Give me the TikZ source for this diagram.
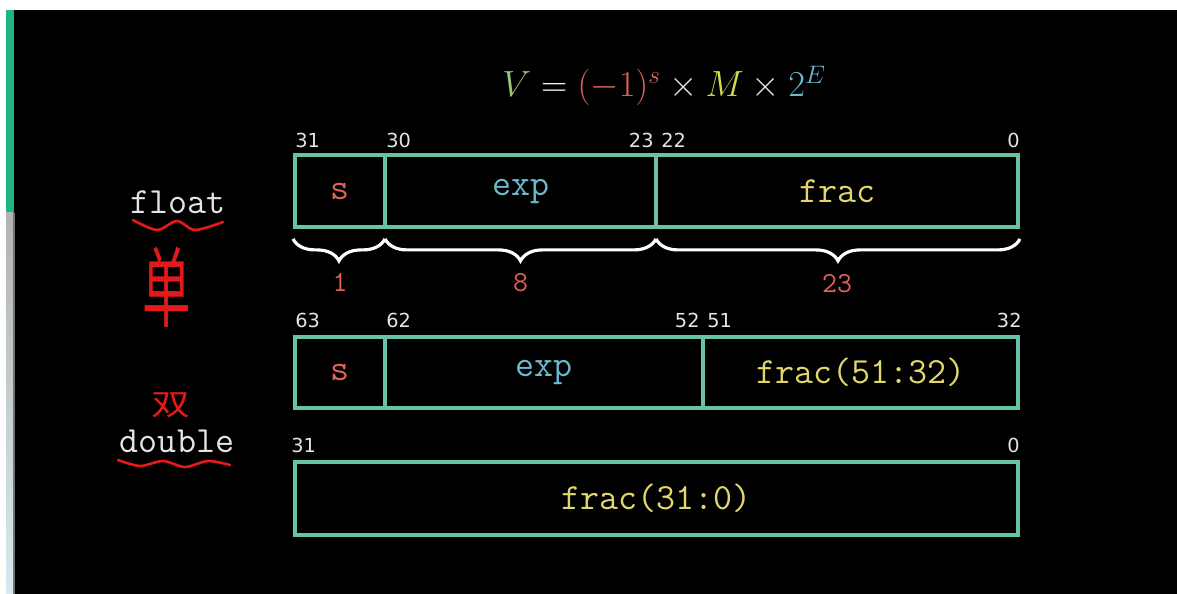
\documentclass[tikz,border=0pt]{standalone}
\usepackage{fontspec}
\newfontfamily\cjk{Noto Sans CJK SC}
\newfontfamily\numfont{DejaVu Sans}
\usetikzlibrary{decorations.pathreplacing,fit,calc}
\definecolor{boxc}{HTML}{66C2A8}
\definecolor{sred}{HTML}{E06358}
\definecolor{eblue}{HTML}{6CB8CC}
\definecolor{fyel}{HTML}{E2D86A}
\definecolor{vgreen}{HTML}{9CC47C}
\definecolor{myel}{HTML}{D4DC4E}
\definecolor{numc}{HTML}{E4E4E4}
\definecolor{hand}{HTML}{E41A1A}
\definecolor{barg}{HTML}{1FB57F}
\begin{document}
\begin{tikzpicture}[x=0.02cm,y=-0.02cm,
  cell/.style={draw=boxc, line width=2.2pt, inner sep=0pt},
  bitno/.style={font=\numfont\fontsize{11}{12}\selectfont, text=numc, inner sep=0pt},
  field/.style={font=\ttfamily\fontsize{21}{24}\selectfont, inner sep=0pt},
  lbl/.style={font=\ttfamily\fontsize{21}{24}\selectfont, text=numc, inner sep=0pt},
  brc/.style={draw=white, line width=1.8pt, decorate, decoration={brace, mirror, amplitude=12.5pt}},
  cnt/.style={font=\ttfamily\fontsize{16.5}{18}\selectfont, text=sred, inner sep=0pt},
  squig/.style={draw=hand, line width=1.5pt, line cap=round}]
\useasboundingbox (0,0) rectangle (1177,594);
\clip (0,0) rectangle (1177,594);
% background
\fill[black] (0,0) rectangle (1177,594);
\fill[white] (0,0) rectangle (1177,10);
\fill[white] (0,0) rectangle (6,594);
\fill[barg] (6,10) rectangle (14,213);
\shade[top color=black!30!white, bottom color={rgb,255:red,216;green,234;blue,238}] (6,213) rectangle (13,594);
\fill[black!55] (13,213) rectangle (15,594);
% formula
\node[anchor=base west, inner sep=0pt, font=\fontsize{22.5}{26}\selectfont] (formula) at (502,97)
  {$\color{vgreen}V \mathrel{\color{white}=} {\color{sred}(-1)^{s}}\mathbin{\color{numc}\times}{\color{myel}M}\mathbin{\color{numc}\times}{\color{eblue}2^{E}}$};
% float row
\node[cell, fit={(295,155) (385,227)}] (fs) {};
\node[cell, fit={(385,155) (656,227)}] (fe) {};
\node[cell, fit={(656,155) (1018,227)}] (ff) {};
\node[field, text=sred] (fsT) at (fs.center) {s};
\node[field, text=eblue] (feT) at (fe.center) {exp};
\node[field, text=fyel] (ffT) at (ff.center) {frac};
\node[bitno, anchor=south west] (b31) at ($(fs.north west)+(2,-5)$) {31};
\node[bitno, anchor=south west] (b30) at ($(fe.north west)+(3,-5)$) {30};
\node[bitno, anchor=south east] (b23) at ($(fe.north east)+(-4,-5)$) {23};
\node[bitno, anchor=south west] (b22) at ($(ff.north west)+(7,-5)$) {22};
\node[bitno, anchor=south east] (b0) at ($(ff.north east)+(0,-5)$) {0};
\coordinate (br1a) at ($(fs.south west)+(0,10)$);
\coordinate (br1b) at ($(fs.south east)+(-2,10)$);
\coordinate (br2a) at ($(fe.south west)+(2,10)$);
\coordinate (br2b) at ($(fe.south east)+(-2,10)$);
\coordinate (br3a) at ($(ff.south west)+(2,10)$);
\coordinate (br3b) at ($(ff.south east)+(0,10)$);
\draw[brc] (br1a) -- (br1b);
\draw[brc] (br2a) -- (br2b);
\draw[brc] (br3a) -- (br3b);
\node[cnt] (c1) at ($(fs.south)+(0,54)$) {1};
\node[cnt] (c8) at ($(fe.south)+(0,54)$) {8};
\node[cnt] (c23) at ($(ff.south)+(0,55)$) {23};
% double row 1
\node[cell, fit={(295,337) (385,408)}] (ds) {};
\node[cell, fit={(385,337) (703,408)}] (de) {};
\node[cell, fit={(703,337) (1018,408)}] (df) {};
\node[field, text=sred] (dsT) at (ds.center) {s};
\node[field, text=eblue] (deT) at (de.center) {exp};
\node[field, text=fyel] (dfT) at (df.center) {frac(51:32)};
\node[bitno, anchor=south west] (b63) at ($(ds.north west)+(2,-7)$) {63};
\node[bitno, anchor=south west] (b62) at ($(de.north west)+(3,-7)$) {62};
\node[bitno, anchor=south east] (b52) at ($(de.north east)+(-5,-7)$) {52};
\node[bitno, anchor=south west] (b51) at ($(df.north west)+(6,-7)$) {51};
\node[bitno, anchor=south east] (b32) at ($(df.north east)+(2,-7)$) {32};
% double row 2
\node[cell, fit={(295,462) (1018,535)}] (dl) {};
\node[field, text=fyel] (dlT) at (dl.center) {frac(31:0)};
\node[bitno, anchor=south west] (b31b) at ($(dl.north west)+(-2,-7)$) {31};
\node[bitno, anchor=south east] (b0b) at ($(dl.north east)+(0,-7)$) {0};
% left labels
\node[lbl] (float) at (178,202) {float};
\draw[squig] plot[smooth] coordinates {(133,220) (157,230) (177,221) (195,230) (223,222)};
\node[inner sep=0pt, text=hand, font=\cjk\fontsize{50}{50}\selectfont, xscale=0.55] (dan) at (167,287) {单};
\node[inner sep=0pt, text=hand, font=\cjk\fontsize{17}{17}\selectfont, xscale=1.3] (shuang) at (171,405) {双};
\node[lbl] (double) at (177,441) {double};
\draw[squig] plot[smooth] coordinates {(118,460) (140,466) (163,461) (185,467) (208,461) (230,465)};
\end{tikzpicture}
\end{document}
